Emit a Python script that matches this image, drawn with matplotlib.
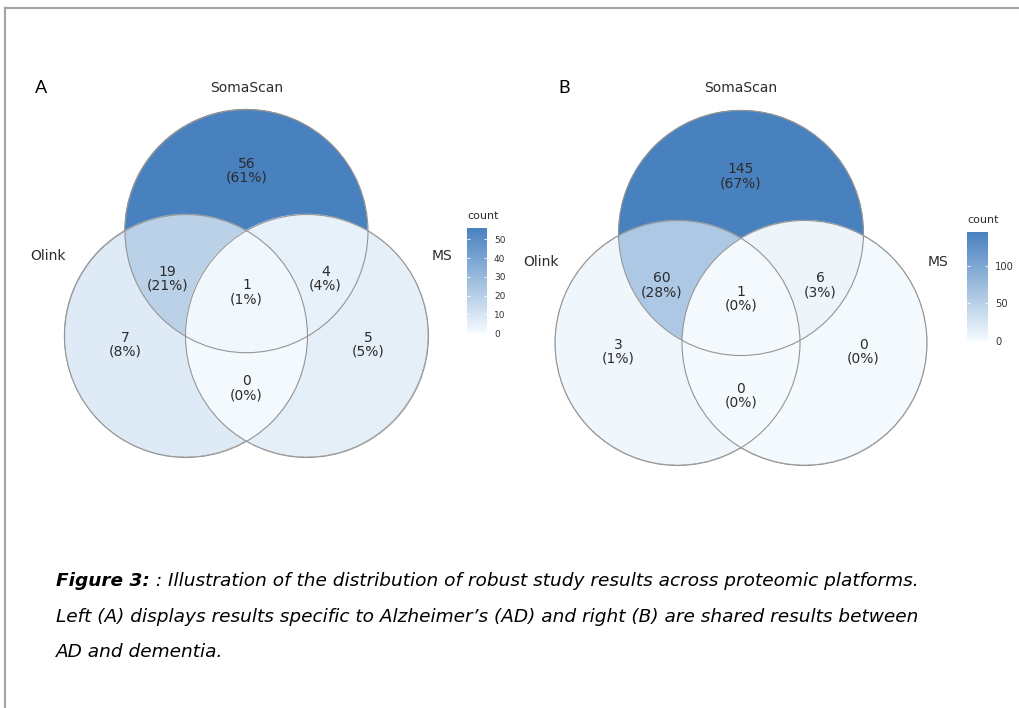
import matplotlib
matplotlib.use("Agg")
import matplotlib.pyplot as plt
import numpy as np
from matplotlib.colors import LinearSegmentedColormap, Normalize
from matplotlib.cm import ScalarMappable
from matplotlib.patches import Circle
from matplotlib.lines import Line2D

# region order: SomaScan only, Olink only, MS only, Olink&SomaScan, SomaScan&MS, Olink&MS, all three
regions = ["soma", "olink", "ms", "olink_soma", "soma_ms", "olink_ms", "all"]
counts_a = [56, 7, 5, 19, 4, 0, 1]
counts_b = [145, 3, 0, 60, 6, 0, 1]
set_names = ["SomaScan", "Olink", "MS"]
ticks_a = [0, 10, 20, 30, 40, 50]
ticks_b = [0, 50, 100]
caption_bold = "Figure 3:"
caption_rest = [": Illustration of the distribution of robust study results across proteomic platforms.",
                "Left (A) displays results specific to Alzheimer\u2019s (AD) and right (B) are shared results between",
                "AD and dementia."]

W, H = 1020, 708
cmap = LinearSegmentedColormap.from_list("venn", ["#F4FAFE", "#4981BF"])
text_font = ["DejaVu Sans"]

# label offsets in units of the circle radius (x right, y up) from the Olink/MS midpoint
label_pos = {"soma": (0, 1.36), "olink": (-1.0, -0.07), "ms": (1.0, -0.07),
             "olink_soma": (-0.65, 0.47), "soma_ms": (0.65, 0.47),
             "olink_ms": (0, -0.43), "all": (0, 0.36)}

fig = plt.figure(figsize=(W / 100, H / 100), dpi=100)
ax = fig.add_axes([0, 0, 1, 1])
ax.set_xlim(0, W)
ax.set_ylim(H, 0)
ax.axis("off")


def draw_venn(counts, cx, cy, r, d, letter, lx, top_y, cbar_box, ticks, cfs):
    norm = Normalize(0, max(counts))
    centers = {"olink": (cx - d / 2, cy), "ms": (cx + d / 2, cy),
               "soma": (cx, cy - d * np.sqrt(3) / 2)}

    # fill regions on a fine grid
    x0, x1 = cx - d / 2 - r - 2, cx + d / 2 + r + 2
    y0, y1 = centers["soma"][1] - r - 2, cy + r + 2
    xs = np.linspace(x0, x1, 1400)
    ys = np.linspace(y0, y1, 1400)
    X, Y = np.meshgrid(xs, ys)
    ins = {k: (X - c[0]) ** 2 + (Y - c[1]) ** 2 <= r ** 2 for k, c in centers.items()}
    s, o, m = ins["soma"], ins["olink"], ins["ms"]
    masks = {"soma": s & ~o & ~m, "olink": o & ~s & ~m, "ms": m & ~s & ~o,
             "olink_soma": o & s & ~m, "soma_ms": s & m & ~o,
             "olink_ms": o & m & ~s, "all": o & s & m}
    img = np.zeros(X.shape + (4,))
    for key, cnt in zip(regions, counts):
        img[masks[key]] = cmap(norm(cnt))
    ax.imshow(img, extent=(x0, x1, y1, y0), origin="upper", interpolation="antialiased", zorder=1)
    ax.set_xlim(0, W)
    ax.set_ylim(H, 0)

    for c in centers.values():
        ax.add_patch(Circle(c, r, fill=False, ec="#959595", lw=0.8, zorder=2))

    total = sum(counts)
    for key, cnt in zip(regions, counts):
        ux, uy = label_pos[key]
        ax.text(cx + ux * r, cy - uy * r, f"{cnt}\n({round(100 * cnt / total)}%)",
                ha="center", va="center", fontsize=10, color="#2b2b2b",
                family=text_font, linespacing=1.0, zorder=3)

    # set names
    ax.text(cx, top_y, set_names[0], ha="center", va="center", fontsize=10,
            color="#2b2b2b", family=text_font)
    ax.text(cx - 1.63 * r, cy - 0.66 * r, set_names[1], ha="center", va="center", fontsize=10,
            color="#2b2b2b", family=text_font)
    ax.text(cx + 1.61 * r, cy - 0.66 * r, set_names[2], ha="center", va="center", fontsize=10,
            color="#2b2b2b", family=text_font)
    ax.text(lx, top_y, letter, ha="left", va="center", fontsize=13, color="black",
            family=["Lato", "DejaVu Sans"])

    # colour bar
    bx, by, bw, bh = cbar_box
    cax = fig.add_axes([bx / W, 1 - (by + bh) / H, bw / W, bh / H])
    cb = fig.colorbar(ScalarMappable(norm=norm, cmap=cmap), cax=cax, ticks=ticks)
    cb.outline.set_visible(False)
    cax.tick_params(direction="in", colors="white", length=bw * 0.15 * 0.72, width=0.6,
                    left=True, right=True, labelcolor="#333333", labelsize=cfs, pad=5)
    for t in cax.get_yticklabels():
        t.set_family(text_font)
    ax.text(bx, by - 12, "count", ha="left", va="center", fontsize=8, color="#2b2b2b",
            family=text_font)


draw_venn(counts_a, 246.5, 336, 121.5, 121, "A", 35, 88, (467, 228, 20, 105), ticks_a, 6.5)
draw_venn(counts_b, 741, 343, 122.5, 127, "B", 558, 88, (967, 232, 21, 109), ticks_b, 7.2)

# page border
fig.add_artist(Line2D([5 / W, 1], [1 - 8 / H, 1 - 8 / H], color="#a6a6a6", lw=1.6))
fig.add_artist(Line2D([5 / W, 5 / W], [0, 1 - 8 / H], color="#a6a6a6", lw=1.6))

# caption
cap_fs = 13.3
cap_x = 56
fig.canvas.draw()
rend = fig.canvas.get_renderer()
t0 = fig.text(cap_x / W, 1 - 581 / H, caption_bold, ha="left", va="center", fontsize=cap_fs,
              style="italic", weight="bold", family=text_font)
bb = t0.get_window_extent(renderer=rend)
fig.text(bb.x1 / W, 1 - 581 / H, " " + caption_rest[0], ha="left", va="center", fontsize=cap_fs,
         style="italic", family=text_font)
fig.text(cap_x / W, 1 - 617 / H, caption_rest[1], ha="left", va="center", fontsize=cap_fs,
         style="italic", family=text_font)
fig.text(cap_x / W, 1 - 652 / H, caption_rest[2], ha="left", va="center", fontsize=cap_fs,
         style="italic", family=text_font)

fig.savefig("out.png", dpi=100)
